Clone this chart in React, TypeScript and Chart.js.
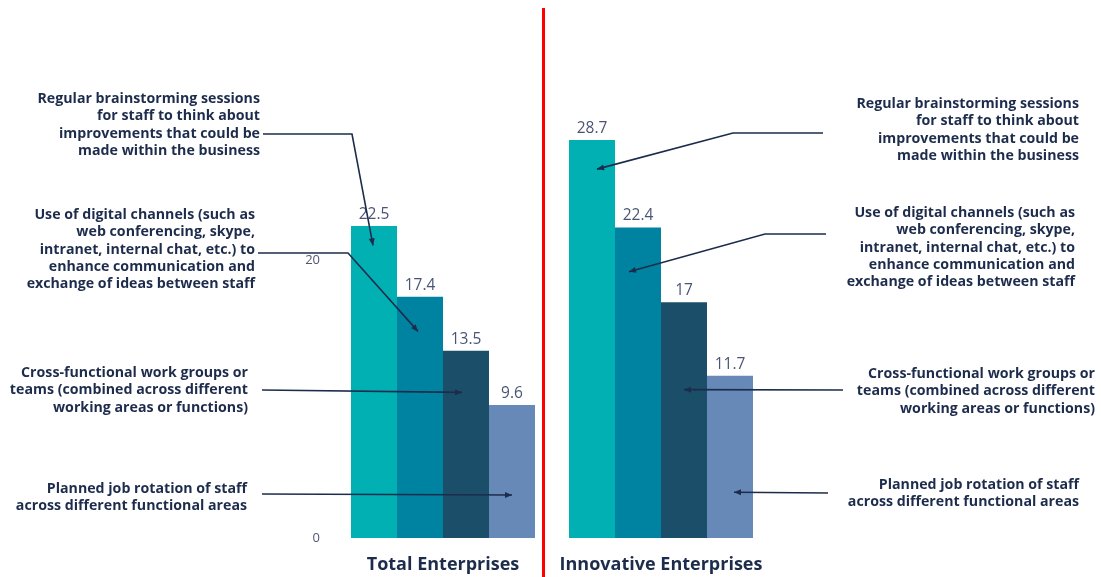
import React, { useEffect, useRef } from "react";
import { Chart, registerables } from "chart.js";

Chart.register(...registerables);

const categories = ["Total Enterprises", "Innovative Enterprises"];
const seriesNames = [
  "Regular brainstorming sessions for staff to think about improvements that could be made within the business",
  "Use of digital channels (such as web conferencing, skype, intranet, internal chat, etc.) to enhance communication and exchange of ideas between staff",
  "Cross-functional work groups or teams (combined across different working areas or functions)",
  "Planned job rotation of staff across different functional areas",
];
const brainstorming = [22.5, 28.7];
const digitalChannels = [17.4, 22.4];
const crossFunctional = [13.5, 17];
const jobRotation = [9.6, 11.7];
const yTicks = [0, 20];
const seriesColors = ["#00b0b3", "#0083a0", "#1b4f69", "#6689b8"];

const labelLines = [
  ["Regular brainstorming sessions", "for staff to think about", "improvements that could be", "made within the business"],
  ["Use of digital channels (such as", "web conferencing, skype,", "intranet, internal chat, etc.) to", "enhance communication and", "exchange of ideas between staff"],
  ["Cross-functional work groups or", "teams (combined across different", "working areas or functions)"],
  ["Planned job rotation of staff", "across different functional areas"],
];
// arrow target values (where the arrows point inside each bar)
const arrowTargetTotal = [21.1, 14.9, 10.5, 3.1];
const arrowTargetInnov = [26.6, 19.2, 10.7, 3.3];

// layout of annotation blocks (pixels)
const leftBlocks = [
  { right: 260, y: 99, sx: 263, sy: 134, ex: 352, dx: -1 },
  { right: 255, y: 215, sx: 258, sy: 253, ex: 348, dx: -2 },
  { right: 248, y: 373, sx: 262, sy: 390, ex: null, dx: -4 },
  { right: 247, y: 489, sx: 262, sy: 494, ex: null, dx: 0 },
];
const rightBlocks = [
  { right: 1079, y: 104, sx: 823, sy: 133, ex: 733, dx: 5 },
  { right: 1075, y: 213, sx: 826, sy: 234, ex: 765, dx: -9 },
  { right: 1095, y: 374, sx: 843, sy: 390, ex: null, dx: 0 },
  { right: 1079, y: 485, sx: 828, sy: 493, ex: null, dx: 4 },
];

const NAVY = "#1d2c4c";
const LINE_H = 17.3;

function drawArrow(ctx: CanvasRenderingContext2D, pts: number[][]) {
  ctx.save();
  ctx.strokeStyle = NAVY;
  ctx.fillStyle = NAVY;
  ctx.lineWidth = 1.6;
  ctx.beginPath();
  ctx.moveTo(pts[0][0], pts[0][1]);
  for (let i = 1; i < pts.length; i++) ctx.lineTo(pts[i][0], pts[i][1]);
  ctx.stroke();
  const [tx, ty] = pts[pts.length - 1];
  const [px, py] = pts[pts.length - 2];
  const ang = Math.atan2(ty - py, tx - px);
  const L = 7, W = 3;
  ctx.beginPath();
  ctx.moveTo(tx, ty);
  ctx.lineTo(tx - L * Math.cos(ang) + W * Math.sin(ang), ty - L * Math.sin(ang) - W * Math.cos(ang));
  ctx.lineTo(tx - L * Math.cos(ang) - W * Math.sin(ang), ty - L * Math.sin(ang) + W * Math.cos(ang));
  ctx.closePath();
  ctx.fill();
  ctx.restore();
}

const annotationPlugin = {
  id: "annotations",
  afterDatasetsDraw(chart: any) {
    const ctx: CanvasRenderingContext2D = chart.ctx;
    const yScale = chart.scales.y;
    // value labels
    ctx.save();
    ctx.font = '15.5px "Open Sans"';
    ctx.fillStyle = "#4a5474";
    ctx.textAlign = "center";
    ctx.textBaseline = "alphabetic";
    chart.data.datasets.forEach((ds: any, di: number) => {
      const meta = chart.getDatasetMeta(di);
      meta.data.forEach((bar: any, i: number) => {
        ctx.fillText(String(ds.data[i]), bar.x, bar.y - 7);
      });
    });
    ctx.restore();

    // annotation texts
    ctx.save();
    ctx.font = 'bold 14.2px "Open Sans"';
    ctx.fillStyle = NAVY;
    ctx.textAlign = "right";
    ctx.textBaseline = "middle";
    [leftBlocks, rightBlocks].forEach((blocks) => {
      blocks.forEach((b, k) => {
        labelLines[k].forEach((line, j) => {
          ctx.fillText(line, b.right, b.y + j * LINE_H);
        });
      });
    });
    ctx.restore();

    // arrows
    [leftBlocks, rightBlocks].forEach((blocks, gi) => {
      const targets = gi === 0 ? arrowTargetTotal : arrowTargetInnov;
      blocks.forEach((b, k) => {
        const bar = chart.getDatasetMeta(k).data[gi];
        const tip = [bar.x + b.dx, yScale.getPixelForValue(targets[k])];
        const pts = [[b.sx, b.sy]];
        if (b.ex !== null) pts.push([b.ex, b.sy]);
        pts.push(tip);
        drawArrow(ctx, pts);
      });
    });
  },
  afterDraw(chart: any) {
    const ctx: CanvasRenderingContext2D = chart.ctx;
    ctx.save();
    ctx.strokeStyle = "#ff0000";
    ctx.lineWidth = 3;
    ctx.beginPath();
    ctx.moveTo(543.5, 8);
    ctx.lineTo(543.5, 577);
    ctx.stroke();
    ctx.restore();
  },
};

export default function App() {
  const ref = useRef<HTMLCanvasElement>(null);
  useEffect(() => {
    const values = [brainstorming, digitalChannels, crossFunctional, jobRotation];
    const chart = new Chart(ref.current!, {
      type: "bar",
      data: {
        labels: categories,
        datasets: seriesNames.map((name, i) => ({
          label: name,
          data: values[i],
          backgroundColor: seriesColors[i],
          borderWidth: 0,
          categoryPercentage: 0.844,
          barPercentage: 1,
        })),
      },
      options: {
        animation: false,
        responsive: false,
        devicePixelRatio: 1,
        layout: { padding: { left: 0, right: 331, top: 122, bottom: 0 } },
        plugins: { legend: { display: false }, tooltip: { enabled: false } },
        scales: {
          x: {
            grid: { display: false, drawTicks: false },
            border: { display: false },
            ticks: {
              padding: 16,
              color: NAVY,
              font: { family: '"Open Sans"', size: 18, weight: "bold" },
            },
            afterFit: (s: any) => {
              s.height = 39;
            },
          },
          y: {
            min: 0,
            max: 30,
            grid: { display: false, drawTicks: false },
            border: { display: false },
            afterBuildTicks: (axis: any) => {
              axis.ticks = yTicks.map((v) => ({ value: v }));
            },
            ticks: {
              padding: 14,
              color: "#4f5873",
              font: { family: '"Open Sans"', size: 13 },
            },
            afterFit: (s: any) => {
              s.width = 334;
            },
          },
        },
      },
      plugins: [annotationPlugin],
    });
    return () => chart.destroy();
  }, []);
  return (
    <canvas
      ref={ref}
      width={1101}
      height={577}
      style={{ position: "absolute", left: 0, top: 0, width: 1101, height: 577, display: "block" }}
    />
  );
}
